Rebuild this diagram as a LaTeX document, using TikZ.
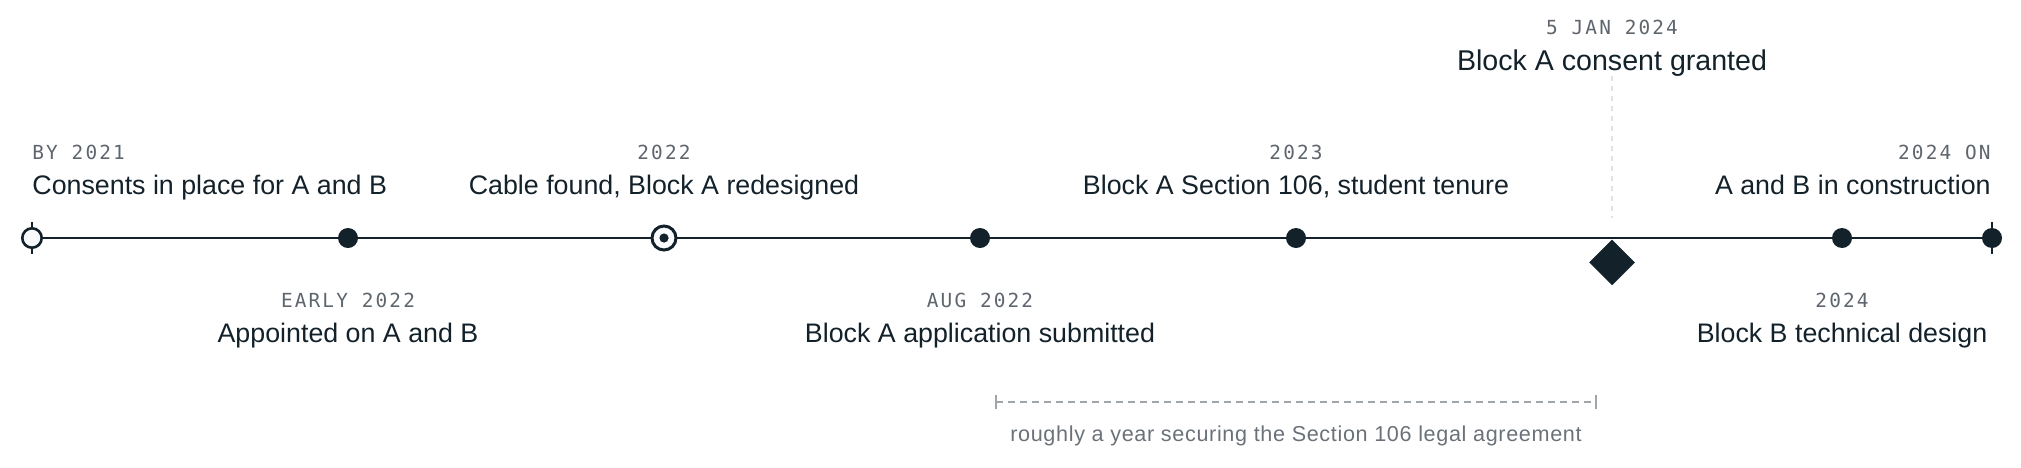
\documentclass[tikz,border=0pt]{standalone}
\usepackage{fontspec}
\setmainfont{Liberation Sans}
\newfontfamily\monofont[LetterSpace=11]{DejaVu Sans Mono}
\newfontfamily\notefont[LetterSpace=3]{Liberation Sans}
\usetikzlibrary{shapes.geometric}
\definecolor{ink}{HTML}{13212A}
\definecolor{datecol}{HTML}{5E656D}
\definecolor{bracketcol}{HTML}{A0A5AB}
\definecolor{notecol}{HTML}{6B7178}
\definecolor{leadercol}{HTML}{E0E2E5}
\definecolor{paper}{HTML}{F8FAFC}
\tikzset{
  title/.style={inner sep=0pt, text=ink, font=\fontsize{13.4}{15}\selectfont},
  bigtitle/.style={inner sep=0pt, text=ink, font=\fontsize{14.3}{16}\selectfont},
  datelbl/.style={inner sep=0pt, text=datecol, font=\monofont\fontsize{9.7}{11}\selectfont},
  dotmark/.style={circle, fill=ink, inner sep=0pt, minimum size=10pt},
  openmark/.style={circle, draw=ink, fill=paper, line width=1.3pt, inner sep=0pt, minimum size=9.7pt},
  ringmark/.style={circle, draw=ink, fill=paper, line width=1.5pt, inner sep=0pt, minimum size=12pt},
  innerdot/.style={circle, fill=ink, inner sep=0pt, minimum size=4.6pt},
  diamondmark/.style={diamond, fill=ink, inner sep=0pt, minimum width=23pt, minimum height=23pt},
  axisline/.style={draw=ink, line width=1.15pt},
  tickline/.style={draw=ink, line width=1.1pt},
  leader/.style={draw=leadercol, line width=0.7pt, dash pattern=on 2.5pt off 2.5pt},
  bracketline/.style={draw=bracketcol, line width=0.7pt, dash pattern=on 3.5pt off 2.5pt},
  notelbl/.style={inner sep=0pt, text=notecol, font=\notefont\fontsize{10.8}{12}\selectfont}
}
\begin{document}
\begin{tikzpicture}[x=0.5pt,y=-0.5pt]
\useasboundingbox (0,0) rectangle (2021,467);
% positions on the axis
\coordinate (p1) at (32,238);
\coordinate (p2) at (348,238);
\coordinate (p3) at (664,238);
\coordinate (p4) at (980,238);
\coordinate (p5) at (1296,238);
\coordinate (p6) at (1612,238);
\coordinate (p7) at (1842,238);
\coordinate (p8) at (1992,238);
% axis
\draw[axisline] (p1) -- (p8);
% end ticks
\coordinate (t1a) at (32,222); \coordinate (t1b) at (32,254);
\coordinate (t8a) at (1992,222); \coordinate (t8b) at (1992,254);
\draw[tickline] (t1a) -- (t1b);
\draw[tickline] (t8a) -- (t8b);
% markers
\node[openmark] (m1) at (p1) {};
\node[dotmark] (m2) at (p2) {};
\node[ringmark] (m3) at (p3) {};
\node[innerdot] (m3i) at (p3) {};
\node[dotmark] (m4) at (p4) {};
\node[dotmark] (m5) at (p5) {};
\node[diamondmark, anchor=north] (m6) at (1612,239) {};
\node[dotmark] (m7) at (p7) {};
\node[dotmark] (m8) at (p8) {};
% leader for diamond event
\coordinate (lt) at (1612,76);
\coordinate (lb) at (1612,218);
\draw[leader] (lt) -- (lb);
% labels
\node[datelbl, anchor=base west] (d1) at (32,159) {BY 2021};
\node[title, anchor=base west] (l1) at (32,194) {Consents in place for A and B};
\node[datelbl, anchor=base] (d2) at (348,307) {EARLY 2022};
\node[title, anchor=base] (l2) at (348,342) {Appointed on A and B};
\node[datelbl, anchor=base] (d3) at (664,159) {2022};
\node[title, anchor=base] (l3) at (664,194) {Cable found, Block A redesigned};
\node[datelbl, anchor=base] (d4) at (980,307) {AUG 2022};
\node[title, anchor=base] (l4) at (980,342) {Block A application submitted};
\node[datelbl, anchor=base] (d5) at (1296,159) {2023};
\node[title, anchor=base] (l5) at (1296,194) {Block A Section 106, student tenure};
\node[datelbl, anchor=base] (d6) at (1612,34) {5 JAN 2024};
\node[bigtitle, anchor=base] (l6) at (1612,70) {Block A consent granted};
\node[datelbl, anchor=base] (d7) at (1842,307) {2024};
\node[title, anchor=base] (l7) at (1842,342) {Block B technical design};
\node[datelbl, anchor=base east] (d8) at (1991,159) {2024 ON};
\node[title, anchor=base east] (l8) at (1991,194) {A and B in construction};
% bracket
\coordinate (ba) at (996,402);
\coordinate (bb) at (1596,402);
\coordinate (ba1) at (996,395); \coordinate (ba2) at (996,409);
\coordinate (bb1) at (1596,395); \coordinate (bb2) at (1596,409);
\draw[bracketline] (ba) -- (bb);
\draw[draw=bracketcol, line width=0.7pt] (ba1) -- (ba2);
\draw[draw=bracketcol, line width=0.7pt] (bb1) -- (bb2);
\node[notelbl, anchor=base] (note) at (1296,441) {roughly a year securing the Section 106 legal agreement};
\end{tikzpicture}
\end{document}
